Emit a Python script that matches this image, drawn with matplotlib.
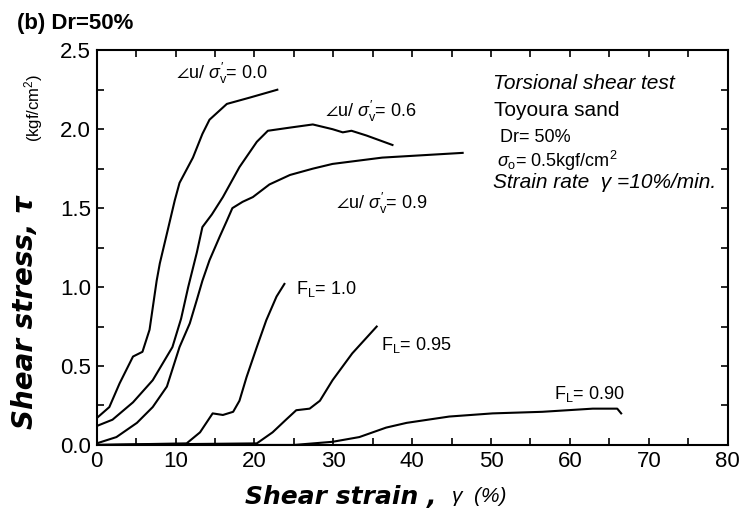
import matplotlib
matplotlib.use("Agg")
import matplotlib.pyplot as plt
from matplotlib.ticker import MultipleLocator, FormatStrFormatter

plt.rcParams["font.family"] = ["Liberation Sans", "DejaVu Sans"]
plt.rcParams["mathtext.fontset"] = "custom"
plt.rcParams["mathtext.rm"] = "Liberation Sans"
plt.rcParams["mathtext.it"] = "Liberation Sans:italic"
plt.rcParams["mathtext.fallback"] = "stixsans"

x_du00 = [0, 1.6, 2.9, 4.6, 5.8, 6.7, 7.6, 8.0, 9.0, 9.9, 10.5, 12.2, 13.4, 14.3,
          16.5, 19.4, 22.9]
t_du00 = [0.17, 0.24, 0.39, 0.56, 0.59, 0.73, 1.04, 1.15, 1.36, 1.55, 1.66, 1.82,
          1.97, 2.06, 2.16, 2.20, 2.25]

x_du06 = [0, 2.0, 4.6, 7.1, 9.6, 10.7, 11.6, 12.7, 13.4, 14.6, 16.0, 18.1, 20.3,
          21.7, 24.5, 27.4, 29.9, 31.2, 32.3, 34.2, 37.5]
t_du06 = [0.12, 0.16, 0.27, 0.41, 0.62, 0.80, 1.00, 1.22, 1.38, 1.46, 1.57, 1.76,
          1.92, 1.99, 2.01, 2.03, 2.00, 1.98, 1.99, 1.96, 1.90]

x_du09 = [0, 2.5, 5.1, 7.1, 8.9, 10.5, 11.8, 12.7, 13.4, 14.3, 15.6, 16.5, 17.2,
          18.5, 19.8, 21.9, 24.5, 27.4, 29.9, 36.2, 46.4]
t_du09 = [0.01, 0.05, 0.14, 0.24, 0.37, 0.62, 0.77, 0.92, 1.04, 1.17, 1.32, 1.42,
          1.50, 1.54, 1.57, 1.65, 1.71, 1.75, 1.78, 1.82, 1.85]

x_fl100 = [0, 11.4, 13.1, 14.7, 16.0, 17.3, 18.1, 19.0, 20.3, 21.5, 22.8, 23.8]
t_fl100 = [0.0, 0.01, 0.08, 0.20, 0.19, 0.21, 0.28, 0.43, 0.62, 0.79, 0.94, 1.02]

x_fl095 = [0, 20.3, 22.3, 24.0, 25.3, 27.0, 28.3, 29.9, 32.4, 35.5]
t_fl095 = [0.0, 0.01, 0.08, 0.16, 0.22, 0.23, 0.28, 0.41, 0.58, 0.75]

x_fl090 = [0, 25.0, 29.9, 33.3, 36.7, 39.3, 44.7, 50.2, 56.5, 62.9, 66.0, 66.5]
t_fl090 = [0.0, 0.0, 0.02, 0.05, 0.11, 0.14, 0.18, 0.20, 0.21, 0.23, 0.23, 0.20]

curves = [(x_du00, t_du00), (x_du06, t_du06), (x_du09, t_du09),
          (x_fl100, t_fl100), (x_fl095, t_fl095), (x_fl090, t_fl090)]

fig = plt.figure(figsize=(7.44, 5.18), dpi=100)
ax = fig.add_axes([0.130, 0.141, 0.848, 0.762])

for xs, ts in curves:
    ax.plot(xs, ts, color="black", lw=1.5)

ax.set_xlim(0, 80)
ax.set_ylim(0, 2.5)
ax.xaxis.set_major_locator(MultipleLocator(10))
ax.xaxis.set_minor_locator(MultipleLocator(5))
ax.yaxis.set_major_locator(MultipleLocator(0.5))
ax.yaxis.set_minor_locator(MultipleLocator(0.25))
ax.yaxis.set_major_formatter(FormatStrFormatter("%.1f"))
ax.tick_params(which="both", direction="in", top=True, right=True,
               length=5, width=1.2, labelsize=16, pad=4)
for s in ax.spines.values():
    s.set_linewidth(1.5)

# curve labels
lab = dict(fontsize=13, va="center", ha="left")
ax.text(10.1, 2.35, r"$\angle$u/ $\sigma_{\rm v}^{\prime}$= 0.0", **lab)
ax.text(28.9, 2.11, r"$\angle$u/ $\sigma_{\rm v}^{\prime}$= 0.6", **lab)
ax.text(30.4, 1.53, r"$\angle$u/ $\sigma_{\rm v}^{\prime}$= 0.9", **lab)
ax.text(25.3, 0.99, r"F$_{\rm L}$= 1.0", **lab)
ax.text(36.1, 0.63, r"F$_{\rm L}$= 0.95", **lab)
ax.text(58.0, 0.32, r"F$_{\rm L}$= 0.90", **lab)

# test conditions
ax.text(50.2, 2.29, "Torsional shear test", fontsize=15, style="italic", va="center")
ax.text(50.4, 2.12, "Toyoura sand", fontsize=15, va="center")
ax.text(51.1, 1.95, "Dr= 50%", fontsize=13, va="center")
ax.text(50.8, 1.80, r"$\sigma_{\rm o}$= 0.5kgf/cm$^2$", fontsize=13, va="center")
ax.text(50.2, 1.66, "Strain rate  γ =10%/min.", fontsize=15, style="italic", va="center")

fig.text(17 / 744, 1 - 23 / 518, "(b) Dr=50%", fontsize=16, fontweight="bold",
         va="center", ha="left")
fig.text(25 / 744, 1 - 312 / 518, "Shear stress, τ", fontsize=20, fontweight="bold",
         style="italic", family="DejaVu Sans", rotation=90, ha="center", va="center")
fig.text(34 / 744, 1 - 108 / 518, "(kgf/cm$^2$)", fontsize=12, rotation=90,
         ha="center", va="center")
fig.text(245 / 744, 1 - 497 / 518, "Shear strain , ", fontsize=18, fontweight="bold",
         style="italic", family="DejaVu Sans", ha="left", va="center")
fig.text(452 / 744, 1 - 497 / 518, "γ  (%)", fontsize=15, style="italic",
         ha="left", va="center")

fig.savefig("out.png", dpi=100)
